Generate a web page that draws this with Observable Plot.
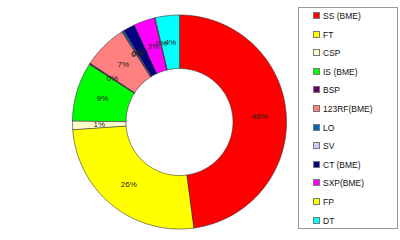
<!DOCTYPE html>
<html>
<head>
<meta charset="utf-8">
<script src="https://cdn.jsdelivr.net/npm/d3@7"></script>
<script src="https://cdn.jsdelivr.net/npm/@observablehq/plot@0.6"></script>
<style>
  html, body { margin: 0; padding: 0; background: #fff; }
  #wrap { position: relative; width: 400px; height: 240px; font-family: Arial, "Liberation Sans", sans-serif; }
  #legend { position: absolute; left: 298px; top: 7px; width: 100px; height: 222px; border: 1px solid #999; box-sizing: border-box; background: #fff; }
  .item { position: absolute; left: 14px; font-size: 8.5px; color: #111; line-height: 10px; white-space: nowrap; }
  .sw { display: inline-block; width: 5px; height: 5px; border: 1px solid #777; margin-right: 3px; vertical-align: 0px; }
</style>
</head>
<body>
<div id="wrap"></div>
<script>
const categories = ["SS (BME)", "FT", "CSP", "IS (BME)", "BSP", "123RF(BME)", "LO", "SV", "CT (BME)", "SXP(BME)", "FP", "DT"];
const values = [47.9, 26.0, 1.3, 8.9, 0.2, 6.7, 0.2, 0.1, 1.8, 3.2, 0.1, 3.6];
const colors = ["#FF0000", "#FFFF00", "#FFFFCC", "#00FF00", "#660066", "#FF8080", "#0066CC", "#CCCCFF", "#000080", "#FF00FF", "#FFFF00", "#00FFFF"];

const total = d3.sum(values);
const inner = 0.5, outer = 1, labelR = 0.75;
const polys = [];
const labels = [];
let acc = 0;
values.forEach((v, i) => {
  const a0 = acc / total * 2 * Math.PI;
  acc += v;
  const a1 = acc / total * 2 * Math.PI;
  const n = Math.max(2, Math.ceil((a1 - a0) / (Math.PI / 180)));
  const pts = [];
  for (let k = 0; k <= n; k++) { const a = a0 + (a1 - a0) * k / n; pts.push([outer * Math.sin(a), outer * Math.cos(a)]); }
  for (let k = n; k >= 0; k--) { const a = a0 + (a1 - a0) * k / n; pts.push([inner * Math.sin(a), inner * Math.cos(a)]); }
  pts.forEach(([x, y]) => polys.push({cat: categories[i], color: colors[i], x, y}));
  const am = (a0 + a1) / 2;
  labels.push({x: labelR * Math.sin(am), y: labelR * Math.cos(am), text: Math.round(v / total * 100) + "%"});
});

const chart = Plot.plot({
  width: 400, height: 240,
  marginLeft: 72, marginRight: 114, marginTop: 14.5, marginBottom: 11.5,
  x: {domain: [-1, 1], axis: null},
  y: {domain: [-1, 1], axis: null},
  style: {fontFamily: "Arial, 'Liberation Sans', sans-serif", background: "#fff"},
  marks: [
    Plot.line(polys, {x: "x", y: "y", z: "cat", fill: "color", stroke: "#333", strokeWidth: 0.6, curve: "linear-closed"}),
    Plot.text(labels, {x: "x", y: "y", text: "text", fill: "#222", fontSize: 8})
  ]
});
const wrap = document.getElementById("wrap");
wrap.appendChild(chart);

const legend = document.createElement("div");
legend.id = "legend";
categories.forEach((c, i) => {
  const it = document.createElement("div");
  it.className = "item";
  it.style.top = (3 + i * 18.6) + "px";
  it.innerHTML = `<span class="sw" style="background:${colors[i]}"></span>${c}`;
  legend.appendChild(it);
});
wrap.appendChild(legend);
</script>
</body>
</html>
